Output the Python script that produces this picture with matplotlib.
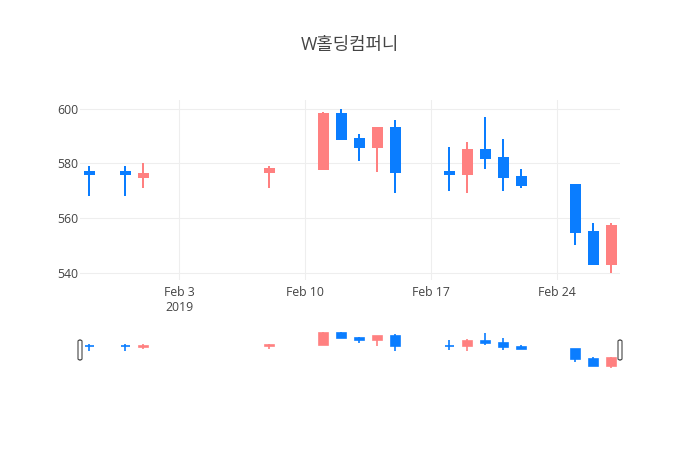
import pandas as pd
import matplotlib.pyplot as plt
import matplotlib.dates as mdates
from matplotlib.patches import FancyBboxPatch

# daily OHLC
dates = ['2019-01-29', '2019-01-31', '2019-02-01', '2019-02-08', '2019-02-11',
         '2019-02-12', '2019-02-13', '2019-02-14', '2019-02-15', '2019-02-18',
         '2019-02-19', '2019-02-20', '2019-02-21', '2019-02-22', '2019-02-25',
         '2019-02-26', '2019-02-27']
opens = [577, 577, 575, 577, 578, 598, 589, 586, 593, 577, 576, 585, 582, 575, 572, 555, 543]
highs = [579, 579, 580, 579, 599, 600, 591, 593, 596, 586, 588, 597, 589, 578, 572, 558, 558]
lows = [568, 568, 571, 571, 578, 589, 581, 577, 569, 570, 569, 578, 570, 571, 550, 543, 540]
closes = [576, 576, 576, 578, 598, 589, 586, 593, 577, 576, 585, 582, 575, 572, 555, 543, 557]

title = 'W홀딩컴퍼니'
tick_dates = ['2019-02-03', '2019-02-10', '2019-02-17', '2019-02-24']
tick_labels = ['Feb 3\n2019', 'Feb 10', 'Feb 17', 'Feb 24']

UP = '#ff8080'
DOWN = '#0a7dff'
FONT = ['Open Sans', 'Noto Sans CJK KR', 'DejaVu Sans']
plt.rcParams['font.family'] = FONT

df = pd.DataFrame({'open': opens, 'high': highs, 'low': lows, 'close': closes},
                  index=pd.to_datetime(dates))
x = mdates.date2num(df.index.to_pydatetime())
colors = [UP if c >= o else DOWN for o, c in zip(df['open'], df['close'])]

W, H = 700, 450
fig = plt.figure(figsize=(7, 4.5), dpi=100)


def px_axes(left, top, right, bottom):
    return fig.add_axes([left / W, 1 - bottom / H, (right - left) / W, (bottom - top) / H])


def candles(ax, lw):
    ax.vlines(x, df['low'], df['high'], colors=colors, linewidth=lw, zorder=2)
    ax.bar(x, df['close'] - df['open'], bottom=df['open'], width=0.5,
           color=colors, edgecolor=colors, linewidth=lw, zorder=3)
    ax.set_xlim(x[0] - 0.5, x[-1] + 0.5)
    for s in ax.spines.values():
        s.set_visible(False)


ax = px_axes(80, 100, 620, 280)
candles(ax, 1.44)
ax.set_ylim(537.25, 603.3)
ax.set_yticks([540, 560, 580, 600])
ax.set_xticks(mdates.date2num(pd.to_datetime(tick_dates).to_pydatetime()))
ax.set_xticklabels(tick_labels)
ax.grid(True, color='#eeeeee', linewidth=0.8)
ax.set_axisbelow(True)
ax.tick_params(length=0, colors='#444444', labelsize=8.8)
ax.tick_params(axis='y', pad=1.5)
ax.tick_params(axis='x', pad=4)
for t in ax.get_xticklabels():
    t.set_linespacing(1.25)

# range slider
sl = px_axes(80, 329.5, 620, 370)
candles(sl, 1.2)
sl.set_ylim(537, 603.5)
sl.set_xticks([])
sl.set_yticks([])
for hx in (80, 620):
    fig.patches.append(FancyBboxPatch(((hx - 2) / W, 1 - 360 / H), 4 / W, 20 / H,
                                      boxstyle='round,pad=0,rounding_size=0.003',
                                      transform=fig.transFigure, facecolor='white',
                                      edgecolor='#444444', linewidth=0.8, zorder=5))

fig.text(350 / W, 1 - 45 / H, title, ha='center', va='center',
         fontsize=12.8, color='#444444', family=FONT)

fig.savefig('out.png', dpi=100)
